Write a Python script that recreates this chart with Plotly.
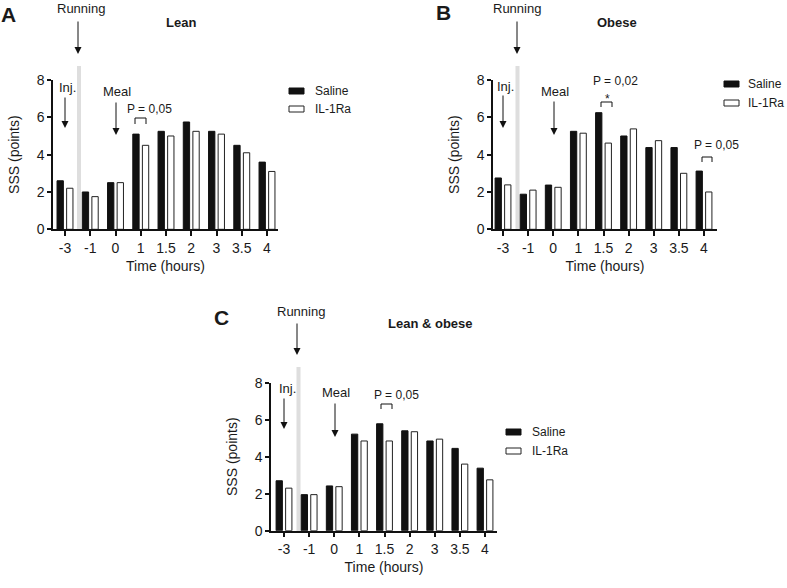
import plotly.graph_objects as go

# ---------------- data ----------------
TIMES = ["-3", "-1", "0", "1", "1.5", "2", "3", "3.5", "4"]

LEAN_SALINE = [2.6, 2.0, 2.5, 5.1, 5.25, 5.75, 5.25, 4.5, 3.6]
LEAN_IL1RA = [2.2, 1.75, 2.5, 4.5, 5.0, 5.25, 5.1, 4.1, 3.1]

OBESE_SALINE = [2.75, 1.88, 2.37, 5.25, 6.25, 5.0, 4.38, 4.38, 3.12]
OBESE_IL1RA = [2.38, 2.1, 2.25, 5.15, 4.62, 5.38, 4.75, 3.0, 2.0]

ALL_SALINE = [2.7, 1.95, 2.42, 5.22, 5.78, 5.4, 4.85, 4.45, 3.38]
ALL_IL1RA = [2.3, 1.95, 2.38, 4.85, 4.85, 5.35, 4.95, 3.6, 2.75]

Y_TICKS = [0, 2, 4, 6, 8]
SERIES_NAMES = ["Saline", "IL-1Ra"]

# ---------------- layout helpers ----------------
W, H = 787, 588
FONT = "Liberation Sans, Arial, Helvetica, sans-serif"
TXT = "#1a1a1a"


def fx(p):
    return p / W


def fy(p):
    return 1 - p / H


PANELS = [
    dict(letter="A", title="Lean", sal=LEAN_SALINE, il=LEAN_IL1RA, xa="x", ya="y",
         left=53, right=278, base=229.3, top=80, first=65, sp=25.25),
    dict(letter="B", title="Obese", sal=OBESE_SALINE, il=OBESE_IL1RA, xa="x2", ya="y2",
         left=493, right=717, base=229.3, top=80, first=503, sp=25.125),
    dict(letter="C", title="Lean & obese", sal=ALL_SALINE, il=ALL_IL1RA, xa="x3", ya="y3",
         left=271, right=497, base=530.7, top=382.7, first=284, sp=25.125),
]

fig = go.Figure()
layout_axes = {}
for i, p in enumerate(PANELS):
    fig.add_trace(go.Bar(x=TIMES, y=p["sal"], name=SERIES_NAMES[0], xaxis=p["xa"], yaxis=p["ya"],
                         marker=dict(color="#111111", line=dict(color="#111111", width=1)),
                         showlegend=False))
    fig.add_trace(go.Bar(x=TIMES, y=p["il"], name=SERIES_NAMES[1], xaxis=p["xa"], yaxis=p["ya"],
                         marker=dict(color="white", line=dict(color="#222222", width=1)),
                         showlegend=False))
    sfx = "" if i == 0 else str(i + 1)
    rlo = (p["left"] - p["first"]) / p["sp"]
    rhi = (p["right"] - p["first"]) / p["sp"]
    layout_axes["xaxis" + sfx] = dict(
        type="category", domain=[fx(p["left"]), fx(p["right"])], range=[rlo, rhi],
        anchor="y" + sfx, showline=True, linecolor="#111", linewidth=1.5,
        ticks="outside", ticklen=5, tickwidth=1.5, tickcolor="#111", automargin=False,
        tickfont=dict(size=14, family=FONT, color=TXT), showgrid=False, zeroline=False,
        title=dict(text="Time (hours)", font=dict(size=14, family=FONT, color=TXT), standoff=6),
    )
    layout_axes["yaxis" + sfx] = dict(
        domain=[fy(p["base"]), fy(p["top"])], range=[0, 8], anchor="x" + sfx,
        tickvals=Y_TICKS, showline=True, linecolor="#111", linewidth=1.5, automargin=False,
        ticks="outside", ticklen=4, tickwidth=1.5, tickcolor="#111",
        tickfont=dict(size=14, family=FONT, color=TXT), showgrid=False, zeroline=False,
        title=dict(text="SSS (points)", font=dict(size=14, family=FONT, color=TXT), standoff=14),
    )

shapes = []
annotations = []


def text(x, y, s, size=13, bold=False, xanchor="center"):
    annotations.append(dict(x=fx(x), y=fy(y), xref="paper", yref="paper", text=f"<b>{s}</b>" if bold else s,
                            showarrow=False, xanchor=xanchor, yanchor="middle",
                            font=dict(size=size, family=FONT, color=TXT)))


def arrow(x, y_from, y_to):
    annotations.append(dict(x=fx(x), y=fy(y_to), xref="paper", yref="paper", text="",
                            showarrow=True, ax=0, ay=-(y_to - y_from), axref="pixel", ayref="pixel",
                            arrowhead=2, arrowsize=1.4, arrowwidth=1, arrowcolor="#111"))


def bracket(x0, x1, ytop, ybot):
    shapes.append(dict(type="path", xref="paper", yref="paper",
                       path=f"M{fx(x0)},{fy(ybot)} L{fx(x0)},{fy(ytop)} L{fx(x1)},{fy(ytop)} L{fx(x1)},{fy(ybot)}",
                       line=dict(color="#111", width=1)))


def grey_bar(xc, ytop, ybot):
    shapes.append(dict(type="rect", xref="paper", yref="paper", x0=fx(xc - 2), x1=fx(xc + 2),
                       y0=fy(ybot), y1=fy(ytop), fillcolor="#dedede", line=dict(width=0), layer="below"))


def legend(x, y1, y2, gap=24):
    shapes.append(dict(type="rect", xref="paper", yref="paper", x0=fx(x), x1=fx(x + 15),
                       y0=fy(y1 + 3), y1=fy(y1 - 3), fillcolor="#111", line=dict(color="#111", width=1)))
    shapes.append(dict(type="rect", xref="paper", yref="paper", x0=fx(x), x1=fx(x + 15),
                       y0=fy(y2 + 3), y1=fy(y2 - 3), fillcolor="white", line=dict(color="#222", width=1)))
    text(x + gap, y1, SERIES_NAMES[0], size=12, xanchor="left")
    text(x + gap, y2, SERIES_NAMES[1], size=12, xanchor="left")


# Panel A
text(8, 14, "A", size=21, bold=True)
text(81, 8, "Running")
arrow(78, 20, 54)
text(181, 23, "Lean", bold=True)
grey_bar(79, 66, 229)
text(67, 88, "Inj.")
arrow(65, 96, 128)
text(117, 92, "Meal")
arrow(116, 101, 135)
text(149, 109, "P = 0,05", size=12)
bracket(135, 146, 118, 124)
legend(289, 91, 109)

# Panel B
text(443, 13, "B", size=21, bold=True)
text(517, 8, "Running")
arrow(517, 20, 54)
text(617, 22, "Obese", bold=True)
grey_bar(517.5, 66, 229)
text(505, 86, "Inj.")
arrow(503, 94, 128)
text(555, 91, "Meal")
arrow(554, 100, 135)
text(615, 81, "P = 0,02", size=12)
text(607, 99, "*", size=12)
bracket(601, 612, 102, 107)
text(716, 145, "P = 0,05", size=12)
bracket(702, 712, 157, 162)
legend(724, 84, 103, gap=22)

# Panel C
text(222, 317, "C", size=21, bold=True)
text(301, 311, "Running")
arrow(297, 322, 355)
text(430, 324, "Lean & obese", bold=True)
grey_bar(298.5, 367, 531)
text(287, 388, "Inj.")
arrow(284, 397, 429)
text(336, 392, "Meal")
arrow(335, 402, 437)
text(396, 395, "P = 0,05", size=12)
bracket(381, 392, 404, 409)
legend(506, 432, 451)

fig.update_layout(
    template="none",
    width=W, height=H, margin=dict(l=0, r=0, t=0, b=0, autoexpand=False),
    paper_bgcolor="white", plot_bgcolor="white",
    barmode="group", bargap=0.24, bargroupgap=0.34,
    shapes=shapes, annotations=annotations,
    font=dict(family=FONT, color=TXT),
    **layout_axes,
)

fig.write_html("out.html", config={"displayModeBar": False},
               post_script="document.body.style.margin='0';document.body.style.overflow='hidden';")
